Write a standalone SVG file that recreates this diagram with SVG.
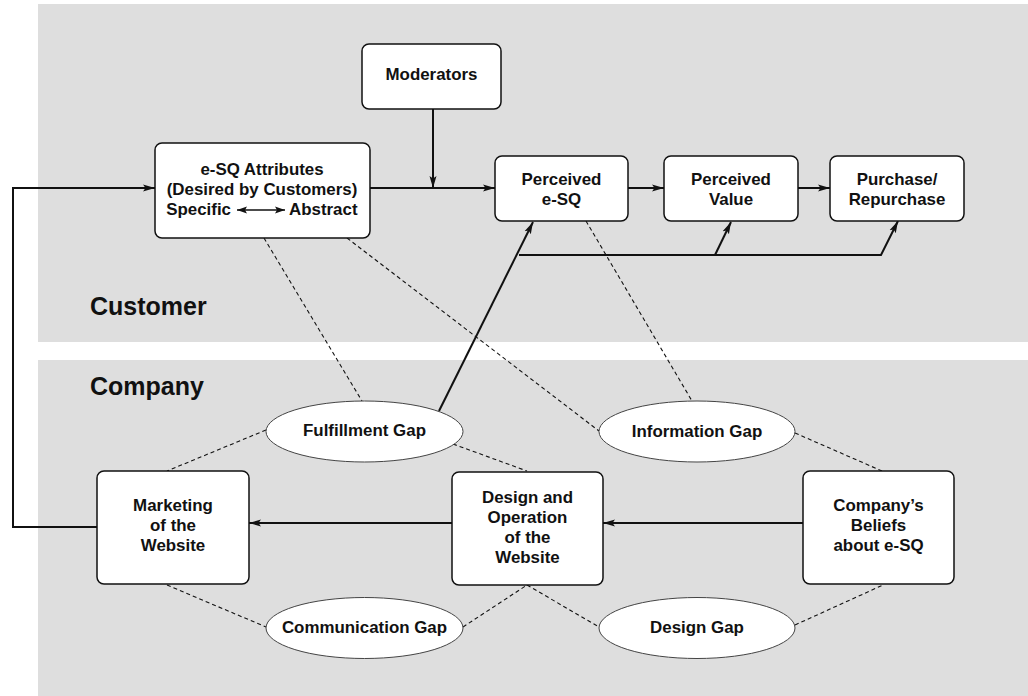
<svg xmlns="http://www.w3.org/2000/svg" width="1028" height="696" viewBox="0 0 1028 696">
<style>
.box{fill:#fff;stroke:#111;stroke-width:1.5}
.gap{fill:#fff;stroke:#444;stroke-width:1}
.t{font-family:"Liberation Sans",Arial,Helvetica,sans-serif;font-weight:bold;font-size:16.9px;fill:#111;text-anchor:middle}
.big{font-family:"Liberation Sans",Arial,Helvetica,sans-serif;font-weight:bold;font-size:25px;fill:#111}
.arr{fill:none;stroke:#111;stroke-width:2;marker-end:url(#ah)}
.dash{fill:none;stroke:#111;stroke-width:1.1;stroke-dasharray:4,3}
</style>
<defs>
<marker id="ah" markerUnits="userSpaceOnUse" markerWidth="13" markerHeight="8" refX="12" refY="4" orient="auto">
<path d="M0,0.5 L12,4 L0,7.5 L2.5,4 z" fill="#111"/>
</marker>
<marker id="sh" markerUnits="userSpaceOnUse" markerWidth="11" markerHeight="8" refX="10" refY="4" orient="auto-start-reverse">
<path d="M0,0.5 L10,4 L0,7.5 L2,4 z" fill="#111"/>
</marker>
</defs>
<rect x="0" y="0" width="1028" height="696" fill="#fff"/>
<rect id="customer-panel" x="38" y="4" width="990" height="338" fill="#dedede"/>
<rect id="company-panel" x="38" y="360" width="990" height="336" fill="#dedede"/>
<text class="big" x="90" y="315">Customer</text>
<text class="big" x="90" y="395">Company</text>

<g id="connectors">
<path class="dash" d="M264,238 L362,401"/>
<path class="dash" d="M347,238 L599,431"/>
<path class="dash" d="M586,221 L692,401"/>
<path class="dash" d="M266,430 L167,471"/>
<path class="dash" d="M453,444 L527,471"/>
<path class="dash" d="M795,433 L882,471"/>
<path class="dash" d="M167,585 L266,627"/>
<path class="dash" d="M463,627 L527,585"/>
<path class="dash" d="M527,585 L599,627"/>
<path class="dash" d="M795,625 L883,585"/>
<path class="arr" d="M97,527 H13 V188 H155"/>
<path class="arr" d="M370,188 H495"/>
<path class="arr" d="M433,109 V188"/>
<path class="arr" d="M628,188 H664"/>
<path class="arr" d="M798,188 H830"/>
<path class="arr" d="M439,411 L533,222"/>
<path class="arr" d="M519,255 H881 L898,221"/>
<path class="arr" d="M715,255 L731,222"/>
<path class="arr" d="M803,523 H603"/>
<path class="arr" d="M452,523 H249"/>
</g>

<g id="moderators">
<rect class="box" x="362" y="44" width="139" height="65" rx="7"/>
<text class="t" x="431.5" y="80">Moderators</text>
</g>
<g id="esq-attributes">
<rect class="box" x="155" y="143" width="215" height="95" rx="7"/>
<text class="t" x="262" y="175">e-SQ Attributes</text>
<text class="t" x="262" y="195">(Desired by Customers)</text>
<text class="t" x="231" y="215" style="text-anchor:end">Specific</text>
<text class="t" x="289" y="215" style="text-anchor:start">Abstract</text>
<path d="M237,210 H285" fill="none" stroke="#111" stroke-width="1.7" marker-start="url(#sh)" marker-end="url(#sh)"/>
</g>
<g id="perceived-esq">
<rect class="box" x="495" y="156" width="133" height="65" rx="7"/>
<text class="t" x="561.5" y="185">Perceived</text>
<text class="t" x="561.5" y="205">e-SQ</text>
</g>
<g id="perceived-value">
<rect class="box" x="664" y="156" width="134" height="65" rx="7"/>
<text class="t" x="731" y="185">Perceived</text>
<text class="t" x="731" y="205">Value</text>
</g>
<g id="purchase">
<rect class="box" x="830" y="156" width="134" height="65" rx="7"/>
<text class="t" x="897" y="185">Purchase/</text>
<text class="t" x="897" y="205">Repurchase</text>
</g>
<g id="fulfillment-gap">
<ellipse class="gap" cx="364.5" cy="431.5" rx="98.5" ry="30.5"/>
<text class="t" x="364.5" y="436">Fulfillment Gap</text>
</g>
<g id="information-gap">
<ellipse class="gap" cx="697" cy="431.5" rx="98" ry="30.5"/>
<text class="t" x="697" y="437">Information Gap</text>
</g>
<g id="communication-gap">
<ellipse class="gap" cx="364.5" cy="628" rx="98.5" ry="30.5"/>
<text class="t" x="364.5" y="633">Communication Gap</text>
</g>
<g id="design-gap">
<ellipse class="gap" cx="697" cy="628" rx="98" ry="30.5"/>
<text class="t" x="697" y="633">Design Gap</text>
</g>
<g id="marketing">
<rect class="box" x="97" y="471" width="152" height="113" rx="7"/>
<text class="t" x="173" y="511">Marketing</text>
<text class="t" x="173" y="531">of the</text>
<text class="t" x="173" y="551">Website</text>
</g>
<g id="design-operation">
<rect class="box" x="452" y="472" width="151" height="113" rx="7"/>
<text class="t" x="527.5" y="503">Design and</text>
<text class="t" x="527.5" y="523">Operation</text>
<text class="t" x="527.5" y="543">of the</text>
<text class="t" x="527.5" y="563">Website</text>
</g>
<g id="company-beliefs">
<rect class="box" x="803" y="471" width="151" height="113" rx="7"/>
<text class="t" x="878.5" y="511">Company’s</text>
<text class="t" x="878.5" y="531">Beliefs</text>
<text class="t" x="878.5" y="551">about e-SQ</text>
</g>
</svg>
